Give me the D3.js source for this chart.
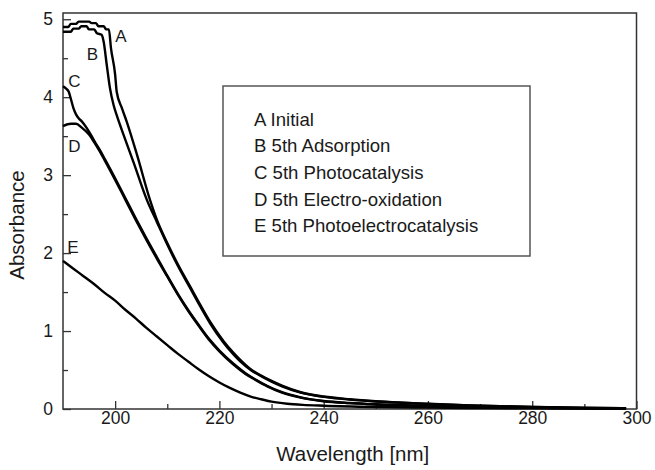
<!DOCTYPE html>
<html>
<head>
<meta charset="utf-8">
<script src="https://cdn.jsdelivr.net/npm/d3@7"></script>
<style>
  html, body { margin: 0; padding: 0; background: #fff; }
  svg { display: block; font-family: "Liberation Sans", Arial, Helvetica, sans-serif; }
</style>
</head>
<body>
<svg id="chart" width="655" height="470"></svg>
<script>
// UV absorbance spectra, [wavelength nm, absorbance]
const curveA = [
  [190,4.90],[191,4.90],[191.5,4.94],[192.5,4.94],[193,4.97],[195,4.97],[195.5,4.95],
  [196.3,4.95],[196.8,4.91],[197.8,4.91],[198.3,4.87],[198.8,4.87],[199.2,4.63],
  [200,4.29],[200.3,4.07],[201.3,3.86],[202.2,3.69],[204.2,3.26],[206.7,2.68],
  [208,2.43],[210,2.13],[212,1.86],[214.4,1.57],[216.3,1.34],[218.3,1.11],
  [220.8,0.87],[222.7,0.72],[224,0.63],[226,0.51],[228,0.43],[230,0.36],[232,0.30],
  [235.6,0.215],[240,0.16],[245,0.125],[250,0.10],[255,0.082],[260,0.067],
  [268,0.047],[280,0.027],[290,0.016],[298,0.01]
];
const curveB = [
  [190,4.84],[191.5,4.84],[192,4.88],[193,4.88],[193.5,4.91],[194.5,4.91],[195,4.87],
  [196,4.87],[196.5,4.82],[197.4,4.80],[197.8,4.71],[198.4,4.41],[199,4.12],
  [199.7,3.90],[200.3,3.77],[201.6,3.52],[203.5,3.17],[206.1,2.68],[208,2.40],
  [210,2.11],[212,1.84],[214.4,1.55],[216.3,1.32],[218.3,1.09],[220.8,0.85],
  [222.7,0.70],[224,0.61],[226,0.50],[228,0.42],[230,0.35],[232,0.29],[235.6,0.21],
  [240,0.155],[245,0.12],[250,0.097],[255,0.08],[260,0.065],[268,0.045],[280,0.026],
  [290,0.015],[298,0.009]
];
const curveC = [
  [190,4.14],[190.6,4.11],[191.1,4.07],[191.5,3.98],[192,3.86],[192.5,3.78],[193,3.73],
  [193.6,3.69],[194.5,3.61],[195.5,3.50],[196,3.44],[197,3.33],[198,3.21],[200,2.96],
  [202,2.70],[204,2.44],[206,2.19],[208,1.95],[210,1.71],[212,1.48],[214,1.27],
  [216,1.08],[218,0.90],[220,0.75],[222.7,0.58],[225,0.46],[227,0.375],[229.2,0.295],
  [232,0.215],[235.6,0.15],[240,0.103],[245,0.077],[250,0.06],[260,0.038],
  [270,0.025],[280,0.016],[290,0.01],[298,0.006]
];
const curveD = [
  [190,3.63],[191.5,3.66],[192.5,3.66],[193.6,3.61],[195,3.52],[196,3.42],[197,3.31],
  [198,3.19],[200,2.94],[202,2.68],[204,2.42],[206,2.17],[208,1.93],[210,1.70],
  [212,1.47],[214,1.26],[216,1.07],[218,0.89],[220,0.74],[222.7,0.57],[225,0.45],
  [227,0.37],[229.2,0.29],[232,0.21],[235.6,0.145],[240,0.10],[245,0.075],
  [250,0.058],[260,0.037],[270,0.024],[280,0.015],[290,0.009],[298,0.006]
];
const curveE = [
  [190,1.90],[192,1.80],[194,1.70],[196,1.60],[198,1.49],[200,1.39],[202,1.27],
  [204,1.16],[206,1.04],[208,0.93],[210,0.82],[212,0.71],[214,0.61],[216,0.51],
  [218,0.42],[220,0.34],[222,0.27],[224,0.21],[226,0.16],[228,0.125],[230,0.095],
  [233,0.068],[236,0.053],[240,0.042],[250,0.026],[260,0.018],[270,0.012],[280,0.008],
  [290,0.005],[298,0.003]
];

const seriesNames = ["A", "B", "C", "D", "E"];
const seriesData = [curveA, curveB, curveC, curveD, curveE];
// curve letter anchors, [wavelength nm, absorbance]
const letterAnchors = [[200.0, 4.71], [194.55, 4.48], [191.0, 4.13], [191.0, 3.30], [190.8, 2.00]];
const legendEntries = [
  "A Initial",
  "B 5th Adsorption",
  "C 5th Photocatalysis",
  "D 5th Electro-oxidation",
  "E 5th Photoelectrocatalysis"
];
const xMajorTicks = [200, 220, 240, 260, 280, 300];
const xMinorTicks = [210, 230, 250, 270, 290];
const yMajorTicks = [0, 1, 2, 3, 4, 5];
const yMinorTicks = [0.5, 1.5, 2.5, 3.5, 4.5];
const xTitle = "Wavelength [nm]";
const yTitle = "Absorbance";

const svg = d3.select("#chart");
const plot = { left: 63, right: 636.5, top: 13, bottom: 409 };

const x = d3.scaleLinear().domain([190, 300]).range([plot.left, plot.right]);
const y = d3.scaleLinear().domain([0, 5.08]).range([plot.bottom, plot.top]);

const ink = "#1a1a1a";
const frameColor = "#333";
const fontStack = "'Liberation Sans', Arial, sans-serif";

// minor ticks (inward)
svg.append("g")
  .attr("transform", `translate(0,${plot.bottom})`)
  .call(d3.axisBottom(x).tickValues(xMinorTicks).tickSize(-5).tickSizeOuter(0).tickFormat(""))
  .call(g => g.select(".domain").remove())
  .call(g => g.selectAll("line").attr("stroke", frameColor).attr("stroke-width", 1.3));
svg.append("g")
  .attr("transform", `translate(${plot.left},0)`)
  .call(d3.axisLeft(y).tickValues(yMinorTicks).tickSize(-5).tickSizeOuter(0).tickFormat(""))
  .call(g => g.select(".domain").remove())
  .call(g => g.selectAll("line").attr("stroke", frameColor).attr("stroke-width", 1.3));

// major ticks with labels
svg.append("g")
  .attr("transform", `translate(0,${plot.bottom})`)
  .call(d3.axisBottom(x).tickValues(xMajorTicks).tickSize(-8).tickSizeOuter(0).tickPadding(3).tickFormat(d3.format("d")))
  .call(g => g.select(".domain").remove())
  .call(g => g.selectAll("line").attr("stroke", frameColor).attr("stroke-width", 1.3))
  .call(g => g.selectAll("text").attr("fill", ink).attr("font-size", 17.5).attr("font-family", fontStack));
svg.append("g")
  .attr("transform", `translate(${plot.left},0)`)
  .call(d3.axisLeft(y).tickValues(yMajorTicks).tickSize(-8).tickSizeOuter(0).tickPadding(10).tickFormat(d3.format("d")))
  .call(g => g.select(".domain").remove())
  .call(g => g.selectAll("line").attr("stroke", frameColor).attr("stroke-width", 1.3))
  .call(g => g.selectAll("text").attr("fill", ink).attr("font-size", 17.5).attr("font-family", fontStack));

// plot frame
svg.append("rect")
  .attr("x", plot.left).attr("y", plot.top)
  .attr("width", plot.right - plot.left).attr("height", plot.bottom - plot.top)
  .attr("fill", "none").attr("stroke", frameColor).attr("stroke-width", 1.5);

// axis titles
svg.append("text")
  .attr("x", (plot.left + plot.right) / 2 + 3).attr("y", 461)
  .attr("text-anchor", "middle").attr("font-size", 20.5).attr("fill", ink)
  .text(xTitle);
svg.append("text")
  .attr("transform", `translate(24,${(plot.top + plot.bottom) / 2 + 14}) rotate(-90)`)
  .attr("text-anchor", "middle").attr("font-size", 20.5).attr("fill", ink)
  .text(yTitle);

// spectra
const line = d3.line()
  .x(d => x(d[0]))
  .y(d => y(d[1]))
  .curve(d3.curveMonotoneX);
svg.append("g").selectAll("path")
  .data(seriesData)
  .join("path")
  .attr("d", line)
  .attr("fill", "none")
  .attr("stroke", "#000")
  .attr("stroke-width", 2.4)
  .attr("stroke-linejoin", "round");

// curve letters
svg.append("g").selectAll("text")
  .data(seriesNames)
  .join("text")
  .attr("x", (d, i) => x(letterAnchors[i][0]))
  .attr("y", (d, i) => y(letterAnchors[i][1]))
  .attr("font-size", 17).attr("fill", ink)
  .text(d => d);

// legend box
const legend = svg.append("g").attr("transform", "translate(223,86)");
legend.append("rect")
  .attr("width", 307).attr("height", 170)
  .attr("fill", "#fff").attr("stroke", "#555").attr("stroke-width", 1.5);
legend.selectAll("text")
  .data(legendEntries)
  .join("text")
  .attr("x", 31)
  .attr("y", (d, i) => 39.7 + i * 26.6)
  .attr("font-size", 18.6).attr("fill", ink)
  .text(d => d);
</script>
</body>
</html>
